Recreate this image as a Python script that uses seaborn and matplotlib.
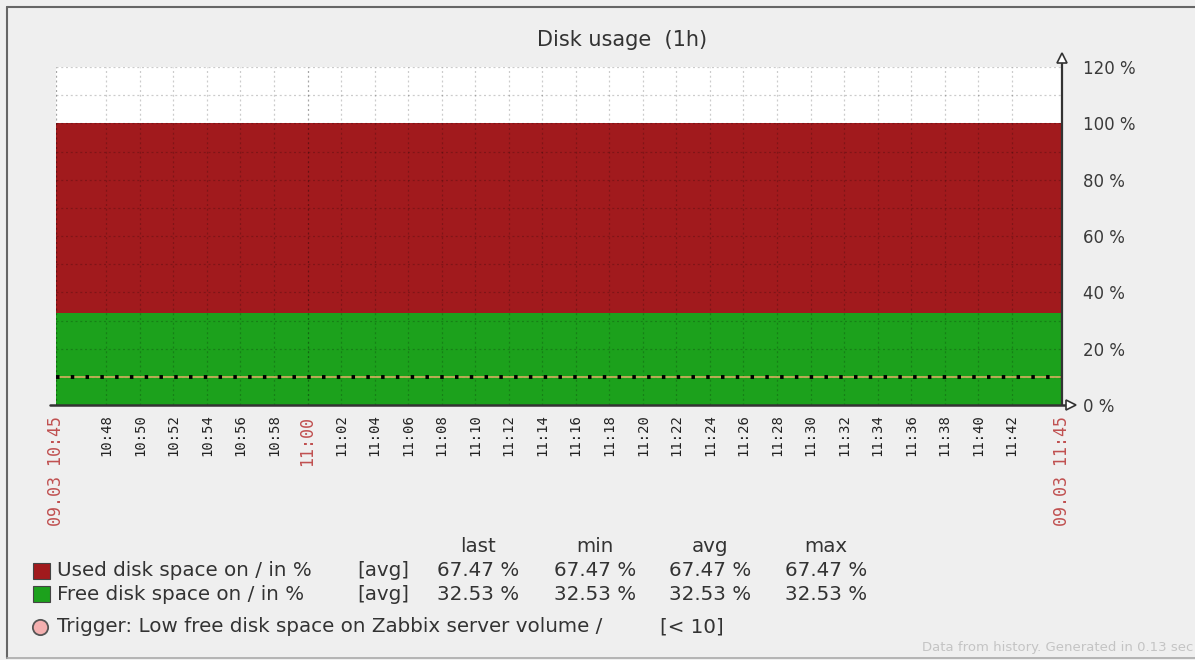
import matplotlib
matplotlib.use("Agg")
import matplotlib.pyplot as plt
import numpy as np
import pandas as pd
import seaborn as sns
from matplotlib.lines import Line2D
from matplotlib.patches import Rectangle

sns.set_theme(style="white")
plt.rcParams['font.family'] = ['DejaVu Sans']

# ---------------- data ----------------
title = "Disk usage  (1h)"
start_time = "10:45"
times = ["10:45", "11:45"]
used_pct = [67.47, 67.47]
free_pct = [32.53, 32.53]
trigger_value = 10
series_names = ["Used disk space on / in %", "Free disk space on / in %"]
series_colors = ["#a11a1d", "#1ca11c"]
trigger_text = "Trigger: Low free disk space on Zabbix server volume /"
trigger_cond = "[< 10]"
stat_names = ["last", "min", "avg", "max"]
minor_labels = ["10:48", "10:50", "10:52", "10:54", "10:56", "10:58",
                "11:02", "11:04", "11:06", "11:08", "11:10", "11:12", "11:14",
                "11:16", "11:18", "11:20", "11:22", "11:24", "11:26", "11:28",
                "11:30", "11:32", "11:34", "11:36", "11:38", "11:40", "11:42"]
major_labels = ["09.03 10:45", "11:00", "09.03 11:45"]
y_ticks = [0, 20, 40, 60, 80, 100, 120]
y_grid = [10, 20, 30, 40, 50, 60, 70, 80, 90, 100, 110, 120]
footer = "Data from history. Generated in 0.13 sec"


def to_min(label):
    hm = label.split(" ")[-1]
    h, m = hm.split(":")
    sh, sm = start_time.split(":")
    return (int(h) * 60 + int(m)) - (int(sh) * 60 + int(sm))


x = np.array([to_min(t) for t in times])
used = np.array(used_pct)
free = np.array(free_pct)
df = pd.DataFrame({"minute": x, "free": free, "total": free + used,
                   "trigger": [trigger_value] * len(x)})

W, H = 1195, 660
fig = plt.figure(figsize=(W / 100, H / 100), dpi=100, facecolor="#efefef")
L, R, T, B = 56, 1062, 67, 405
ax = fig.add_axes([L / W, 1 - B / H, (R - L) / W, (B - T) / H])
ax.set_facecolor("white")
ax.set_xlim(x.min(), x.max())
ax.set_ylim(0, 120)

# stacked areas
ax.fill_between(df["minute"], 0, df["free"], color=series_colors[1], lw=0, zorder=1)
ax.fill_between(df["minute"], df["free"], df["total"], color=series_colors[0], lw=0, zorder=1)

# grid
gcol = (0, 0, 0, 0.2)
for yv in y_grid:
    ax.axhline(yv, color=gcol, lw=0.9, ls=(0, (1.6, 2.2)), zorder=2)
minor_pos = [to_min(t) for t in minor_labels]
major_pos = [to_min(t) for t in major_labels]
for xv in minor_pos:
    ax.axvline(xv, color=gcol, lw=0.9, ls=(0, (1.6, 2.2)), zorder=2)
for xv in major_pos[:-1]:
    ax.axvline(xv, color=(0, 0, 0, 0.35), lw=0.9, ls=(0, (1.6, 2.2)), zorder=2)

# trigger line
sns.lineplot(data=df, x="minute", y="trigger", ax=ax, color="#d8b060", lw=1.2, zorder=3)
sns.lineplot(data=df, x="minute", y="trigger", ax=ax, color="black", lw=2.8,
             linestyle=(0, (0.9, 2.9)), zorder=4)

for s in ["left", "top", "right", "bottom"]:
    ax.spines[s].set_visible(False)

# axes lines with arrows
ax.plot([x.max(), x.max()], [0, 123.2], color="#333333", lw=1.6, clip_on=False, zorder=5)
ax.plot([x.max()], [123.2], marker="^", ms=7, mfc="white", mec="#333333", mew=1.2,
        clip_on=False, zorder=6)
ax.plot([x.min() - 0.35, x.max() + 0.55], [0, 0], color="#333333", lw=1.8, clip_on=False, zorder=5)
ax.plot([x.max() + 0.55], [0], marker=">", ms=7, mfc="white", mec="#333333", mew=1.2,
        clip_on=False, zorder=6)

# y ticks on right
ax.yaxis.tick_right()
ax.set_yticks(y_ticks)
ax.set_yticklabels([f"{v} %" for v in y_ticks], fontsize=12, color="#3a3a3a")
ax.tick_params(axis="y", length=0, pad=15)

# x ticks
ax.set_xticks([])
for lab, xv in zip(minor_labels, minor_pos):
    ax.text(xv, -3.4, lab, rotation=90, ha="center", va="top", fontsize=10,
            family="DejaVu Sans Mono", color="#222222")
for lab, xv in zip(major_labels, major_pos):
    ax.text(xv, -4.0, lab, rotation=90, ha="center", va="top", fontsize=12,
            family="DejaVu Sans Mono", color="#c05050")
ax.set_xlabel("")
ax.set_ylabel("")
legend_obj = ax.get_legend()
if legend_obj:
    legend_obj.remove()

# title
fig.text(622 / W, 1 - 40 / H, title, ha="center", va="center", fontsize=15, color="#333333")

# legend table
tc = "#333333"
fs = 14.3
col_x = [478, 595, 710, 826]
for name, cx in zip(stat_names, col_x):
    fig.text(cx / W, 1 - 547 / H, name, ha="center", va="center", fontsize=fs, color=tc)
rows = [(series_names[0], series_colors[0], used, 571),
        (series_names[1], series_colors[1], free, 594)]
for name, col, vals, yy in rows:
    fig.patches.append(Rectangle((33 / W, 1 - (yy + 8) / H), 17 / W, 16 / H,
                                 transform=fig.transFigure, facecolor=col,
                                 edgecolor="#444444", lw=0.8))
    fig.text(57 / W, 1 - yy / H, name, ha="left", va="center", fontsize=fs, color=tc)
    fig.text(383 / W, 1 - yy / H, "[avg]", ha="center", va="center", fontsize=fs, color=tc)
    stats = [vals[-1], vals.min(), vals.mean(), vals.max()]
    for sv, cx in zip(stats, col_x):
        fig.text(cx / W, 1 - yy / H, f"{sv:.2f} %", ha="center", va="center", fontsize=fs, color=tc)

fig.add_artist(Line2D([40 / W], [1 - 627 / H], transform=fig.transFigure, marker="o",
                      ms=11, mfc="#f4b0b0", mec="#555555", mew=1.3, ls="none"))
fig.text(57 / W, 1 - 627 / H, trigger_text, ha="left", va="center", fontsize=fs, color=tc)
fig.text(692 / W, 1 - 627 / H, trigger_cond, ha="center", va="center", fontsize=fs, color=tc)

fig.text(922 / W, 1 - 648 / H, footer, ha="left", va="center", fontsize=9.5, color="#c4c4c4")

# frame
fig.add_artist(Line2D([7 / W, 7 / W], [1 - 7 / H, 1 - 658 / H], transform=fig.transFigure,
                      color="#666666", lw=1.5))
fig.add_artist(Line2D([7 / W, 1], [1 - 7 / H, 1 - 7 / H], transform=fig.transFigure,
                      color="#666666", lw=1.5))
fig.add_artist(Line2D([7 / W, 1], [1 - 658 / H, 1 - 658 / H], transform=fig.transFigure,
                      color="#aaaaaa", lw=1.2))

fig.savefig("out.png", dpi=100, facecolor=fig.get_facecolor())
